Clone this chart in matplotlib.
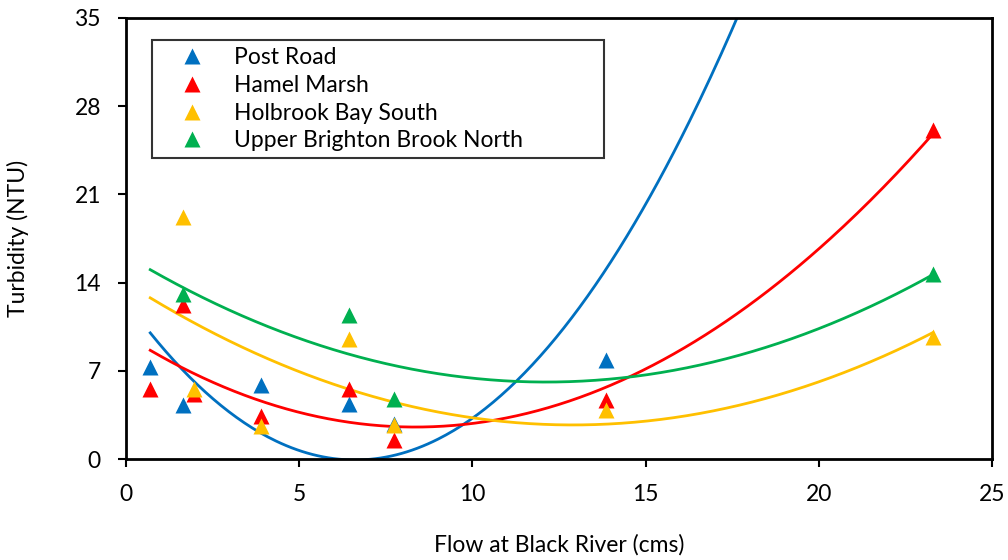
import numpy as np
import matplotlib.pyplot as plt

plt.rcParams['font.family'] = ['Lato', 'DejaVu Sans']

# flow (cms) and turbidity (NTU) per site
post_x = [0.7, 1.65, 3.9, 6.45, 7.75, 13.85, 23.3]
post_y = [7.3, 4.3, 5.9, 4.4, 2.8, 7.9, 82.0]  # last one is off the top of the axis

hamel_x = [0.7, 1.65, 1.95, 3.9, 6.45, 7.75, 13.85, 23.3]
hamel_y = [5.6, 12.2, 5.2, 3.4, 5.6, 1.5, 4.7, 26.1]

holbrook_x = [1.65, 1.95, 3.9, 6.45, 7.75, 13.85, 23.3]
holbrook_y = [19.2, 5.6, 2.6, 9.5, 2.7, 3.9, 9.7]

brighton_x = [1.65, 6.45, 7.75, 23.3]
brighton_y = [13.1, 11.4, 4.8, 14.7]

sites = ['Post Road', 'Hamel Marsh', 'Holbrook Bay South', 'Upper Brighton Brook North']
colors = ['#0070C0', '#FF0000', '#FFC000', '#00B050']
xs = [post_x, hamel_x, holbrook_x, brighton_x]
ys = [post_y, hamel_y, holbrook_y, brighton_y]

fs = 16.5

fig = plt.figure(figsize=(10.08, 5.6), dpi=100)
ax = fig.add_axes([0.125, 0.180, 0.859, 0.788])

handles = []
for name, c, x, y in zip(sites, colors, xs, ys):
    h, = ax.plot(x, y, '^', color=c, ms=12, mec='none', label=name, zorder=3)
    handles.append(h)

# 2nd order polynomial trendlines
xt = np.linspace(0.7, 23.3, 300)
for c, x, y in zip(colors, xs, ys):
    coef = np.polyfit(x, y, 2)
    ax.plot(xt, np.polyval(coef, xt), color=c, lw=2, zorder=2)

ax.set_xlim(0, 25)
ax.set_ylim(0, 35)
ax.set_xticks(np.arange(0, 26, 5))
ax.set_yticks(np.arange(0, 36, 7))
ax.tick_params(direction='out', length=6, width=1.5, labelsize=fs)
ax.tick_params(axis='x', pad=12)
ax.tick_params(axis='y', pad=12)
for s in ax.spines.values():
    s.set_linewidth(2)
ax.set_xlabel('Flow at Black River (cms)', fontsize=fs, va='center')
ax.set_ylabel('Turbidity (NTU)', fontsize=fs, va='center')
ax.xaxis.set_label_coords(0.5, -0.195)
ax.yaxis.set_label_coords(-0.125, 0.5)

leg = ax.legend(handles=handles, loc='upper left', bbox_to_anchor=(0.030, 0.692, 0.522, 0.258),
                mode='expand', fontsize=fs, frameon=True, fancybox=False, borderpad=0.3,
                labelspacing=0.3, handletextpad=0.4, borderaxespad=0, handlelength=2.9)
leg.get_frame().set_edgecolor('black')
leg.get_frame().set_linewidth(1.5)

fig.savefig('out.png', dpi=100)
